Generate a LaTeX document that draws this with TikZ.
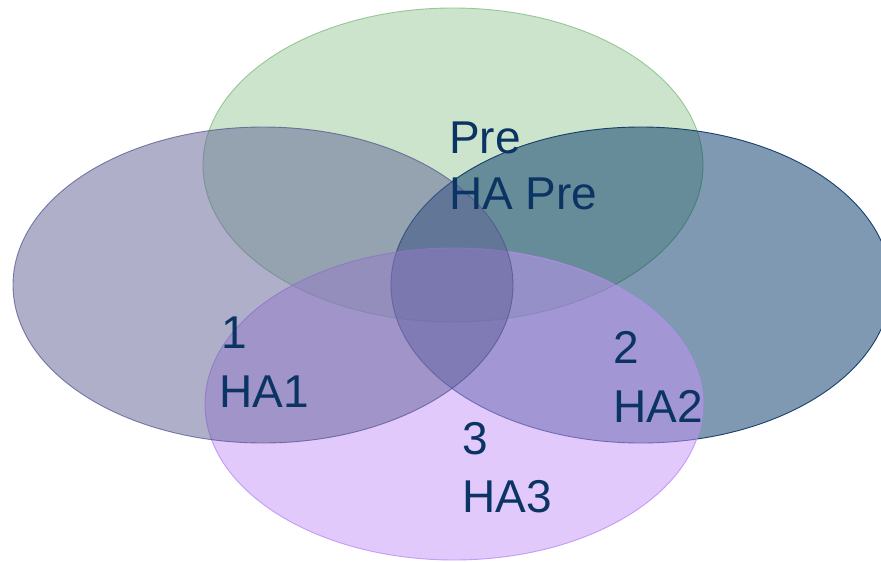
\documentclass[tikz,border=0pt]{standalone}
\usepackage{fontspec}
\setmainfont{Liberation Sans}
\definecolor{gbase}{RGB}{153,203,153}
\definecolor{lbase}{RGB}{97,97,151}
\definecolor{rbase}{RGB}{0,53,103}
\definecolor{bbase}{RGB}{197,149,249}
\definecolor{gline}{RGB}{130,190,130}
\definecolor{lline}{RGB}{80,80,140}
\definecolor{rline}{RGB}{10,50,100}
\definecolor{bline}{RGB}{185,140,245}
\definecolor{txt}{RGB}{11,51,99}
\begin{document}
\begin{tikzpicture}[x=1pt,y=-1pt,
  setellipse/.style={line width=0.9pt,fill opacity=0.5},
  lbl/.style={anchor=base west,inner sep=0pt,text=txt,font=\fontsize{46}{55}\selectfont}]
\useasboundingbox (0,0) rectangle (881,562);
\clip (0,0) rectangle (881,562);
\fill[white] (0,0) rectangle (881,562);
\path[setellipse,fill=gbase,draw=gline,draw opacity=0.8] (453,165) ellipse [x radius=250,y radius=157];
\path[setellipse,fill=rbase,draw=rline,draw opacity=0.9] (641,285) ellipse [x radius=250,y radius=158];
\path[setellipse,fill=bbase,draw=bline,draw opacity=0.8] (454,404) ellipse [x radius=249,y radius=156];
\path[setellipse,fill=lbase,draw=lline,draw opacity=0.7] (263,285) ellipse [x radius=250,y radius=158];
\node[lbl] (pre) at (449,153) {Pre};
\node[lbl] (hapre) at (449,209) {HA Pre};
\node[lbl] (one) at (221,348) {1};
\node[lbl] (ha1) at (219,407) {HA1};
\node[lbl] (two) at (613,363) {2};
\node[lbl] (ha2) at (613,422) {HA2};
\node[lbl] (three) at (462,454) {3};
\node[lbl] (ha3) at (462,512) {HA3};
\end{tikzpicture}
\end{document}
